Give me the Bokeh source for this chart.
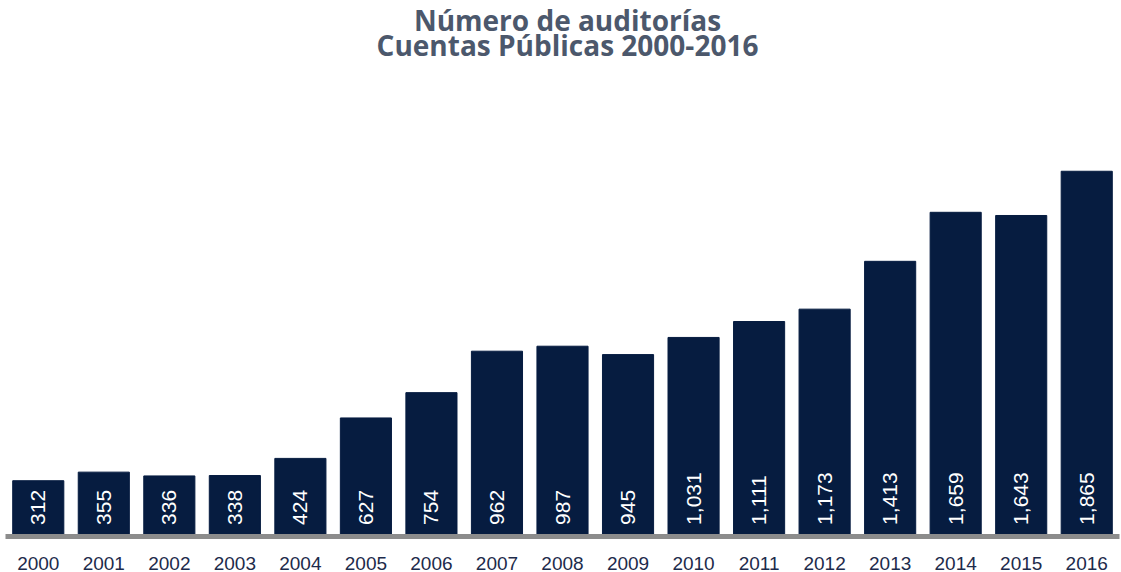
from bokeh.plotting import figure
from bokeh.models import ColumnDataSource, Range1d, FactorRange, Label
from bokeh.core.properties import value
from bokeh.embed import file_html
from bokeh.resources import INLINE
import math

years = ["2000", "2001", "2002", "2003", "2004", "2005", "2006", "2007", "2008",
         "2009", "2010", "2011", "2012", "2013", "2014", "2015", "2016"]
audits = [312, 355, 336, 338, 424, 627, 754, 962, 987, 945, 1031, 1111, 1173,
          1413, 1659, 1643, 1865]
labels = [f"{v:,}" for v in audits]
title_lines = ["Número de auditorías", "Cuentas Públicas 2000-2016"]

src = ColumnDataSource(dict(year=years, audits=audits, label=labels, zero=[0] * len(years)))

p = figure(width=1121, height=572, output_backend="svg", toolbar_location=None,
           x_range=FactorRange(*years),
           y_range=Range1d(32, 2722),
           min_border_left=5, min_border_right=2, min_border_top=0, min_border_bottom=0)

# two-line title, centred over the frame (screen units from frame bottom-left)
for i, line in enumerate(title_lines):
    p.add_layout(Label(x=562, y=517 - 25 * i, x_units="screen", y_units="screen",
                       text=line, text_align="center", text_baseline="middle",
                       text_font="Open Sans", text_font_size="28px",
                       text_font_style="bold", text_color="#4c586c"))

p.vbar(x="year", top="audits", width=0.78, source=src,
       fill_color="#061c40", line_color="#061c40")

p.text(x="year", y="zero", text="label", source=src, angle=math.pi / 2,
       text_align="left", text_baseline="middle", y_offset=-18,
       text_font=value("Liberation Sans"), text_font_size="21px",
       text_color="white")

p.outline_line_color = None
p.xgrid.grid_line_color = None
p.ygrid.grid_line_color = None
p.yaxis.visible = False

ax = p.xaxis[0]
ax.axis_line_color = "#8c8c8c"
ax.axis_line_width = 5
ax.major_tick_line_color = None
ax.minor_tick_line_color = None
ax.major_label_standoff = 14
ax.major_label_text_font = "Liberation Sans"
ax.major_label_text_font_size = "19px"
ax.major_label_text_color = "#1d2b4b"

open("out.html", "w").write(file_html(p, INLINE))
